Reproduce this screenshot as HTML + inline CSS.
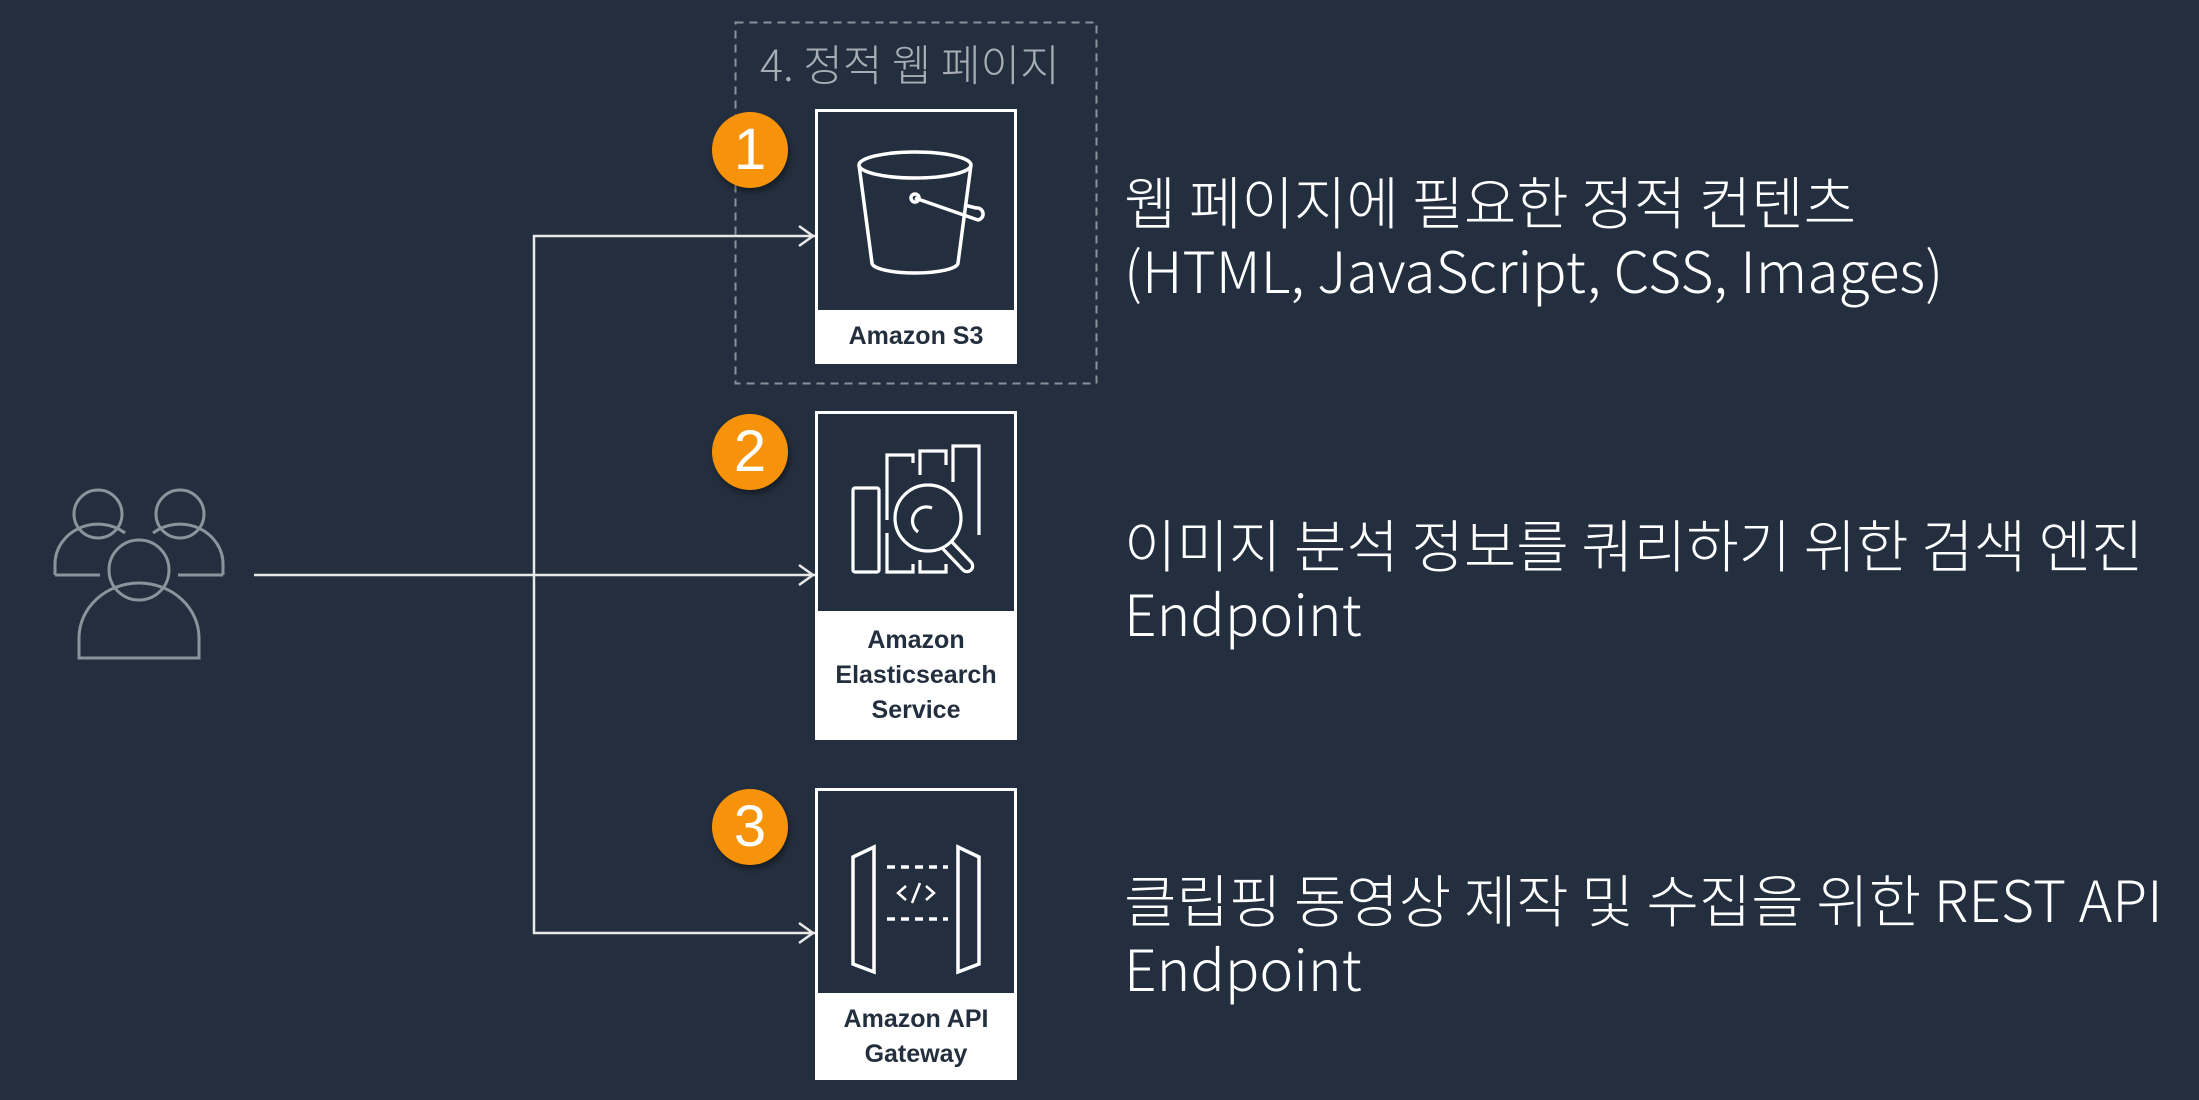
<!DOCTYPE html>
<html><head><meta charset="utf-8"><style>
html,body{margin:0;padding:0;background:#232f3e;}
body{width:2199px;height:1100px;position:relative;overflow:hidden;font-family:"Liberation Sans","Noto Sans CJK KR",sans-serif;}
.t{position:absolute;color:#fff;font-size:57px;font-weight:300;white-space:nowrap;line-height:69px;font-family:"Noto Sans CJK KR","Liberation Sans",sans-serif;}
.lbl{position:absolute;left:815px;width:202px;background:#fff;color:#232f3e;font-weight:bold;font-size:25px;text-align:center;line-height:35px;display:flex;align-items:center;justify-content:center;flex-direction:column;}
.num{position:absolute;width:76px;height:76px;border-radius:50%;background:#f7930a;color:#fff;font-size:58px;text-align:center;line-height:76px;box-shadow:2px 4px 6px rgba(0,0,0,.4);}
</style></head><body>
<svg width="2199" height="1100" style="position:absolute;left:0;top:0">
<rect x="735.5" y="22.5" width="361" height="361" fill="none" stroke="#8a9099" stroke-width="2" stroke-dasharray="8,6"/>
<g stroke="#e8e8e8" stroke-width="2.5" fill="none">
<polyline points="815,236 534,236 534,933 815,933"/>
<line x1="254" y1="575" x2="815" y2="575"/>
<polyline points="799,226 813,236 799,246"/>
<polyline points="799,565 813,575 799,585"/>
<polyline points="799,923 813,933 799,943"/>
</g>
<g fill="#232f3e" stroke="#fff" stroke-width="3">
<rect x="816.5" y="110.5" width="199" height="252"/>
<rect x="816.5" y="412.5" width="199" height="326"/>
<rect x="816.5" y="789.5" width="199" height="289"/>
</g>
<g stroke="#8a949c" stroke-width="3" fill="none">
<circle cx="98" cy="514" r="24"/><circle cx="180" cy="514" r="24"/>
<path d="M55,575 v-10 a43,40 0 0 1 70,-32"/>
<path d="M223,575 v-10 a43,40 0 0 0 -70,-32"/>
<line x1="55" y1="575" x2="100" y2="575"/><line x1="178" y1="575" x2="223" y2="575"/>
<circle cx="139" cy="570" r="30"/>
<path d="M79,658 v-20 a60,55 0 0 1 120,0 v20 z"/>
</g>
<g stroke="#fff" stroke-width="3.5" fill="none">
<ellipse cx="915" cy="165" rx="56" ry="13"/>
<path d="M859,165 L872,263 a43,10 0 0 0 86,0 L971,165"/>
<circle cx="915" cy="198" r="4"/>
<path d="M915,198 L978,220 a4,4 0 0 0 -2,-12 L964,205"/>
</g>
<g stroke="#fff" stroke-width="3.2" fill="none">
<rect x="853" y="488" width="26" height="84" rx="2"/>
<path d="M887,533 v39 h26 v-8 M887,520 v-65 h26 v8"/>
<path d="M920,560 v12 h26 v-8 M920,475 v-24 h26 v14"/>
<path d="M953,482 v-36 h26 v89"/>
<circle cx="928" cy="518" r="33"/>
<path d="M918,532 a14,14 0 0 1 14,-24"/>
<path d="M951,541 l20,21 a5,5 0 0 1 -8,8 l-20,-21"/>
</g>
<g stroke="#fff" stroke-width="3.5" fill="none">
<path d="M853,857 l21,-10 v125 l-21,-8 z"/>
<path d="M979,857 l-21,-10 v125 l21,-8 z"/>
<line x1="887" y1="867" x2="948" y2="867" stroke-dasharray="8,6"/>
<line x1="887" y1="919" x2="948" y2="919" stroke-dasharray="8,6"/>
<polyline points="906,886 898,893 906,900" stroke-width="2.5"/>
<polyline points="926,886 934,893 926,900" stroke-width="2.5"/>
<line x1="920" y1="883" x2="912" y2="903" stroke-width="2.5"/>
</g>
</svg>
<div style="position:absolute;left:760px;top:36px;color:#a7adb4;font-size:43px;font-family:'Noto Sans CJK KR','Liberation Sans',sans-serif;font-weight:300;line-height:54px;">4. 정적 웹 페이지</div>
<div class="num" style="left:712px;top:112px">1</div>
<div class="num" style="left:712px;top:414px">2</div>
<div class="num" style="left:712px;top:789px">3</div>
<div class="lbl" style="top:310px;height:53px">Amazon S3</div>
<div class="lbl" style="top:611px;height:129px"><span>Amazon</span><span>Elasticsearch</span><span>Service</span></div>
<div class="lbl" style="top:993px;height:87px"><span>Amazon API</span><span>Gateway</span></div>
<div class="t" style="left:1124px;top:166px">웹 페이지에 필요한 정적 컨텐츠<br>(HTML, JavaScript, CSS, Images)</div>
<div class="t" style="left:1124px;top:509px">이미지 분석 정보를 쿼리하기 위한 검색 엔진<br>Endpoint</div>
<div class="t" style="left:1124px;top:864px">클립핑 동영상 제작 및 수집을 위한 REST API<br>Endpoint</div>
</body></html>
